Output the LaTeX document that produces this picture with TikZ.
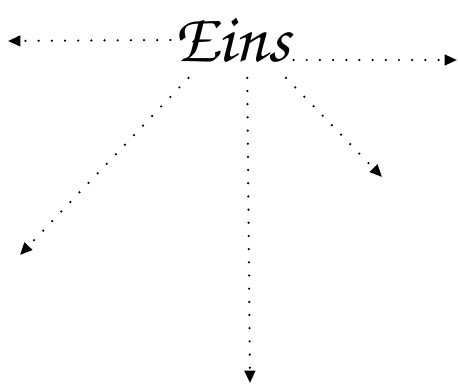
\documentclass[tikz,border=0pt]{standalone}
\usetikzlibrary{arrows.meta}
\tikzset{
  >={Triangle[length=7pt,width=6pt]},
  word/.style={font=\fontencoding{T1}\fontfamily{pzc}\fontseries{mb}\fontshape{it}\fontsize{40}{40}\selectfont,inner sep=0pt,minimum width=2.45cm,minimum height=1.5cm},
  dotarrow/.style={->,line width=1.4pt,line cap=round,dash pattern=on 0pt off 7.5pt},
}
\begin{document}
\begin{tikzpicture}[x=0.02cm,y=-0.02cm]
  \useasboundingbox (0,0) rectangle (458,384);
  \node[word] (eins) at (232,40) {Eins};
  \coordinate (west end) at (8,41);
  \coordinate (east end) at (457,60);
  \coordinate (sw end) at (20,255);
  \coordinate (se end) at (382,177);
  \coordinate (south end) at (250,383);
  \draw[dotarrow] (eins.west) -- (west end);
  \draw[dotarrow] (eins.-18) -- (east end);
  \draw[dotarrow] (eins.-139) -- (sw end);
  \draw[dotarrow] (eins.-35) -- (se end);
  \draw[dotarrow] (eins.-68) -- (south end);
\end{tikzpicture}
\end{document}
